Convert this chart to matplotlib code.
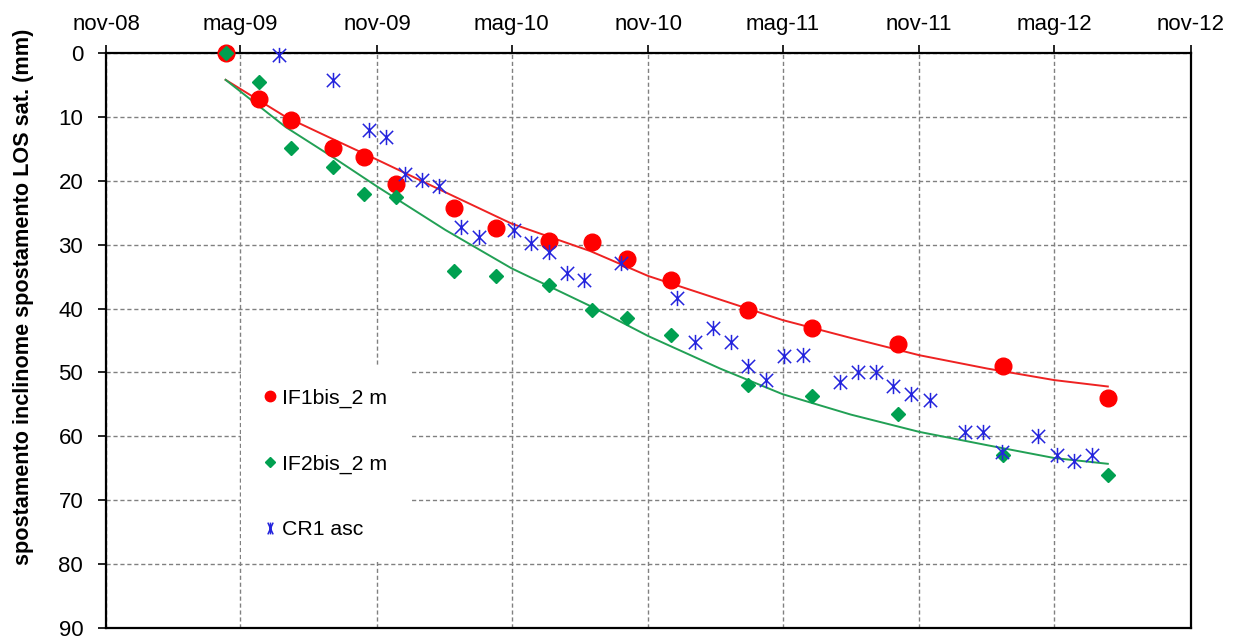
import matplotlib
matplotlib.use('Agg')
import matplotlib.pyplot as plt
import matplotlib.dates as mdates
from matplotlib.path import Path
from matplotlib.lines import Line2D
import numpy as np

plt.rcParams['font.family'] = ['Liberation Sans', 'DejaVu Sans']

# --- inclinometers IF1bis / IF2bis (same reading dates) ---
incl_dates = np.array(['2009-04-11', '2009-05-26', '2009-07-08', '2009-09-02', '2009-10-15',
                       '2009-11-27', '2010-02-13', '2010-04-10', '2010-06-21', '2010-08-18',
                       '2010-10-04', '2010-12-02', '2011-03-16', '2011-06-10', '2011-10-03',
                       '2012-02-22', '2012-07-12'], dtype='datetime64[D]')
if1_vals = [0, 7.2, 10.5, 14.8, 16.2, 20.5, 24.3, 27.4, 29.5, 29.6, 32.2, 35.5, 40.3, 43.1, 45.6, 49.0, 54.0]
if2_vals = [0, 4.6, 14.9, 17.8, 22.1, 22.5, 34.1, 34.9, 36.3, 40.3, 41.5, 44.2, 52.0, 53.7, 56.5, 62.9, 66.1]

# --- corner reflector CR1, ascending orbit ---
cr1_dates = np.array(['2009-06-22', '2009-09-02', '2009-10-21', '2009-11-13', '2009-12-08',
                      '2009-12-31', '2010-01-24', '2010-02-22', '2010-03-18', '2010-05-04',
                      '2010-05-27', '2010-06-21', '2010-07-15', '2010-08-07', '2010-09-25',
                      '2010-12-10', '2011-01-03', '2011-01-27', '2011-02-20', '2011-03-16',
                      '2011-04-09', '2011-05-03', '2011-05-28', '2011-07-17', '2011-08-10',
                      '2011-09-04', '2011-09-27', '2011-10-21', '2011-11-15', '2012-01-02',
                      '2012-01-26', '2012-02-20', '2012-04-09', '2012-05-04', '2012-05-28',
                      '2012-06-21'], dtype='datetime64[D]')
cr1_vals = [0.3, 4.2, 12.0, 13.1, 18.9, 19.9, 20.8, 27.2, 28.8, 27.7, 29.8, 31.1, 34.4, 35.5, 32.9,
            38.4, 45.2, 43.1, 45.3, 49.0, 51.2, 47.5, 47.2, 51.5, 50.0, 50.0, 52.2, 53.4, 54.3, 59.3,
            59.3, 62.4, 60.0, 62.9, 63.9, 62.9]

# --- trend lines ---
trend_dates = np.array(['2009-04-11', '2009-07-01', '2009-09-01', '2009-11-01', '2010-02-01',
                        '2010-05-01', '2010-08-15', '2010-11-01', '2011-02-06', '2011-05-01',
                        '2011-08-01', '2011-11-01', '2012-02-01', '2012-05-01', '2012-07-12'],
                       dtype='datetime64[D]')
trend_if1 = [4.2, 10.0, 13.4, 16.7, 21.8, 26.7, 31.0, 34.9, 38.6, 41.8, 44.6, 47.3, 49.4, 51.2, 52.2]
trend_if2 = [4.2, 11.6, 16.2, 20.9, 27.7, 33.7, 39.6, 44.3, 49.4, 53.4, 56.6, 59.3, 61.4, 63.4, 64.3]

mesi = {5: 'mag', 11: 'nov'}

# Excel-like asterisk marker
star = Path([(-1, -1), (1, 1), (-1, 1), (1, -1), (0, -1.15), (0, 1.15)],
            [Path.MOVETO, Path.LINETO] * 3)
star_narrow = Path([(-0.45, -1), (0.45, 1), (-0.45, 1), (0.45, -1), (0, -1), (0, 1)],
                   [Path.MOVETO, Path.LINETO] * 3)

fig = plt.figure(figsize=(12.36, 6.41), dpi=100)
ax = fig.add_axes([0.0858, 0.0203, 0.8778, 0.897])

ax.plot(trend_dates, trend_if1, color='#ee2222', lw=1.4, zorder=3)
ax.plot(trend_dates, trend_if2, color='#22a055', lw=1.4, zorder=3)
ax.plot(incl_dates, if1_vals, 'o', color='#ff0000', ms=12, mec='#ff0000', zorder=4, clip_on=False)
ax.plot(incl_dates, if2_vals, 'D', color='#00a050', ms=7, mec='#00a050', zorder=5, clip_on=False)
ax.plot(cr1_dates, cr1_vals, linestyle='none', marker=star, ms=11, mew=1.1, color='#2424dd',
        zorder=6, clip_on=False)

ax.set_xlim(np.datetime64('2008-11-01'), np.datetime64('2012-11-01'))
ax.set_ylim(90, 0)
ax.set_yticks(np.arange(0, 91, 10))

ax.xaxis.tick_top()
ax.xaxis.set_major_locator(mdates.MonthLocator(bymonth=[5, 11]))
ax.xaxis.set_major_formatter(plt.FuncFormatter(
    lambda x, pos: '%s-%s' % (mesi[mdates.num2date(x).month], mdates.num2date(x).strftime('%y'))))

ax.tick_params(axis='both', labelsize=16, length=6, width=1.2, color='black')
ax.tick_params(axis='x', pad=7)
ax.tick_params(axis='y', pad=10.5)

for s in ax.spines.values():
    s.set_linewidth(1.6)
    s.set_color('black')

ax.grid(True, color='#808080', linestyle=(0, (3, 2)), linewidth=1.0)
ax.set_axisbelow(True)

ax.set_ylabel('spostamento inclinome spostamento LOS sat. (mm)', fontsize=15.6, fontweight='bold')
ax.yaxis.set_label_coords(-0.066, 0.576)

handles = [Line2D([], [], linestyle='none', marker='o', color='#ff0000', ms=7.5),
           Line2D([], [], linestyle='none', marker='D', color='#00a050', ms=5),
           Line2D([], [], linestyle='none', marker=star_narrow, color='#2424dd', ms=8.5, mew=1.1)]
leg = ax.legend(handles, ['IF1bis_2 m', 'IF2bis_2 m', 'CR1 asc'], loc='upper left',
                bbox_to_anchor=(0.1243, 0.4556), borderaxespad=0, frameon=True,
                facecolor='white', edgecolor='none', framealpha=1, fancybox=False,
                handlelength=0.6, handletextpad=0.3, labelspacing=2.2, borderpad=1.05,
                fontsize=15.3, numpoints=1)
leg.set_zorder(2.5)

fig.savefig('out.png', dpi=100)
